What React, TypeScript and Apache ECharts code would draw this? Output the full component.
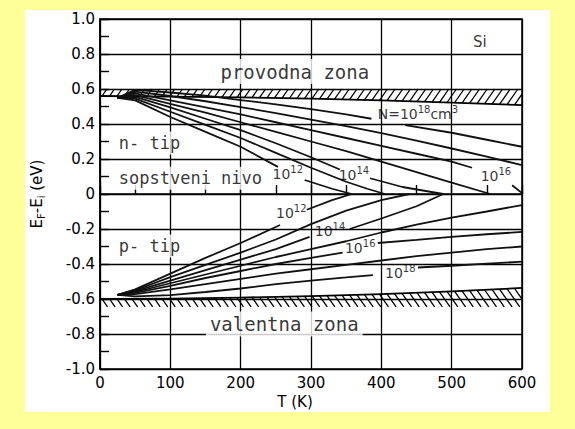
import { useEffect, useRef } from "react";
import * as echarts from "echarts";

type Pt = [number, number | string];
const GAP = "-";

// n-tip krive (E_F - E_i u eV) za razne koncentracije primesa
const nType12: Pt[] = [[25, 0.55], [50, 0.535], [100, 0.44], [150, 0.355], [200, 0.27], [253, 0.155], [270, GAP], [291, 0.08], [330, 0.03], [358, 0]];
const nType13: Pt[] = [[25, 0.55], [50, 0.545], [100, 0.47], [150, 0.395], [200, 0.32], [250, 0.235], [300, 0.15], [350, 0.07], [380, 0.03], [405, 0]];
const nType14: Pt[] = [[25, 0.55], [50, 0.555], [100, 0.495], [150, 0.43], [200, 0.365], [250, 0.29], [300, 0.21], [341, 0.14], [360, GAP], [384, 0.09], [430, 0.04], [488, 0]];
const nType15: Pt[] = [[25, 0.55], [50, 0.565], [100, 0.515], [150, 0.465], [200, 0.41], [250, 0.355], [300, 0.3], [350, 0.245], [400, 0.185], [450, 0.125], [500, 0.065], [555, 0]];
const nType16: Pt[] = [[25, 0.55], [50, 0.575], [100, 0.535], [150, 0.495], [200, 0.455], [250, 0.41], [300, 0.365], [350, 0.32], [400, 0.275], [450, 0.23], [500, 0.185], [529, 0.15], [560, GAP], [586, 0.05], [600, 0.005]];
const nType17: Pt[] = [[25, 0.55], [50, 0.585], [100, 0.56], [150, 0.53], [200, 0.497], [250, 0.462], [300, 0.425], [350, 0.388], [400, 0.348], [450, 0.305], [500, 0.26], [550, 0.213], [600, 0.165]];
const nType18: Pt[] = [[25, 0.55], [50, 0.595], [100, 0.58], [150, 0.562], [200, 0.537], [250, 0.512], [300, 0.485], [350, 0.455], [386, 0.43], [410, GAP], [434, 0.394], [500, 0.35], [550, 0.31], [600, 0.27]];

// p-tip krive
const pType12: Pt[] = [[25, -0.577], [50, -0.545], [100, -0.455], [150, -0.365], [200, -0.28], [256, -0.177], [275, GAP], [294, -0.09], [330, -0.035], [358, 0]];
const pType13: Pt[] = [[25, -0.577], [50, -0.55], [100, -0.475], [150, -0.405], [200, -0.335], [250, -0.26], [300, -0.172], [350, -0.095], [400, -0.035], [440, 0]];
const pType14: Pt[] = [[25, -0.577], [50, -0.555], [100, -0.495], [150, -0.435], [200, -0.375], [250, -0.315], [298, -0.245], [325, GAP], [355, -0.2], [400, -0.14], [450, -0.07], [488, 0]];
const pType15: Pt[] = [[25, -0.577], [50, -0.56], [100, -0.51], [150, -0.46], [200, -0.41], [250, -0.36], [300, -0.315], [350, -0.27], [400, -0.22], [450, -0.175], [500, -0.135], [550, -0.1], [600, -0.063]];
const pType16: Pt[] = [[25, -0.577], [50, -0.565], [100, -0.525], [150, -0.48], [200, -0.44], [250, -0.4], [300, -0.365], [345, -0.335], [370, GAP], [395, -0.28], [450, -0.262], [500, -0.245], [550, -0.23], [600, -0.217]];
const pType17: Pt[] = [[25, -0.577], [50, -0.572], [100, -0.545], [150, -0.515], [200, -0.485], [250, -0.455], [300, -0.43], [350, -0.405], [400, -0.38], [450, -0.355], [500, -0.335], [550, -0.315], [600, -0.3]];
const pType18: Pt[] = [[25, -0.577], [50, -0.585], [100, -0.578], [150, -0.56], [200, -0.54], [250, -0.515], [300, -0.495], [350, -0.477], [388, -0.463], [420, GAP], [452, -0.42], [500, -0.41], [550, -0.398], [600, -0.387]];

const curves = [nType12, nType13, nType14, nType15, nType16, nType17, nType18, pType12, pType13, pType14, pType15, pType16, pType17, pType18];

// ivice zona
const bandT = [0, 100, 200, 300, 400, 500, 600];
const condTop = [0.6, 0.6, 0.6, 0.6, 0.6, 0.6, 0.6];
const condBottom = [0.56, 0.557, 0.552, 0.545, 0.535, 0.522, 0.508];
const valTop = [-0.6, -0.598, -0.592, -0.583, -0.572, -0.556, -0.537];
const valBottom = [-0.645, -0.645, -0.645, -0.645, -0.645, -0.645, -0.645];

// oznake krivih: osnova, eksponent, nastavak, eksponent nastavka
const curveLabels = [
  { t: 267, e: 0.115, base: "10", sup: "12", tail: "", tailSup: "" },
  { t: 361, e: 0.109, base: "10", sup: "14", tail: "", tailSup: "" },
  { t: 563, e: 0.103, base: "10", sup: "16", tail: "", tailSup: "" },
  { t: 452, e: 0.457, base: "N=10", sup: "18", tail: "cm", tailSup: "3" },
  { t: 272, e: -0.111, base: "10", sup: "12", tail: "", tailSup: "" },
  { t: 327, e: -0.214, base: "10", sup: "14", tail: "", tailSup: "" },
  { t: 370, e: -0.311, base: "10", sup: "16", tail: "", tailSup: "" },
  { t: 427, e: -0.449, base: "10", sup: "18", tail: "", tailSup: "" }
];

const regionLabels = [
  { t: 277, e: 0.7, text: "provodna zona", left: false, big: true },
  { t: 21, e: 0.291, text: "n- tip", left: true, big: false },
  { t: 21, e: 0.09, text: "sopstveni nivo", left: true, big: false },
  { t: 21, e: -0.297, text: "p- tip", left: true, big: false },
  { t: 262, e: -0.743, text: "valentna zona", left: false, big: true }
];

const siLabel = { t: 540, e: 0.869, text: "Si" };

function interpY(pts: number[][], x: number) {
  for (let i = 0; i < pts.length - 1; i++) {
    const a = pts[i];
    const b = pts[i + 1];
    if (x >= a[0] && x <= b[0]) {
      const f = (x - a[0]) / (b[0] - a[0] || 1);
      return a[1] + f * (b[1] - a[1]);
    }
  }
  return pts[pts.length - 1][1];
}

function hatchRenderer(top: number[], bottom: number[], forward: boolean, edgeTop: boolean) {
  return (params: any, api: any) => {
    if (params.dataIndex !== 0) return null;
    const topPts = bandT.map((t, i) => api.coord([t, top[i]]));
    const botPts = bandT.map((t, i) => api.coord([t, bottom[i]]));
    const x0 = topPts[0][0];
    const x1 = topPts[topPts.length - 1][0];
    const children: any[] = [];
    const edge = edgeTop ? topPts : botPts;
    children.push({ type: "polyline", shape: { points: edge }, style: { stroke: "#000", lineWidth: 1.8, fill: null } });
    for (let x = x0 + 2; x < x1 - 2; x += 7.5) {
      const yt = interpY(topPts, x);
      const yb = interpY(botPts, x);
      const h = yb - yt;
      let dx = h * 0.7;
      let len = 1;
      if (x + dx > x1) {
        len = (x1 - x) / dx;
        dx = x1 - x;
      }
      if (forward) {
        children.push({ type: "line", shape: { x1: x, y1: yb, x2: x + dx, y2: yb - h * len }, style: { stroke: "#000", lineWidth: 1.3 } });
      } else {
        children.push({ type: "line", shape: { x1: x, y1: yt, x2: x + dx, y2: yt + h * len }, style: { stroke: "#000", lineWidth: 1.3 } });
      }
    }
    return { type: "group", children };
  };
}

export default function App() {
  const chartRef = useRef<HTMLDivElement | null>(null);

  useEffect(() => {
    const el = chartRef.current;
    if (!el) return;
    const chart = echarts.init(el, undefined, { renderer: "svg" });
    const font = "DejaVu Sans";
    const mono = "DejaVu Sans Mono";

    const lineSeries = curves.map((data) => ({
      type: "line",
      data,
      symbol: "none",
      connectNulls: false,
      silent: true,
      z: 3,
      lineStyle: { color: "#111", width: 1.8 }
    }));

    const supRich = {
      b: { fontSize: 14, fontFamily: font, color: "#000" },
      s: { fontSize: 10, fontFamily: font, color: "#000", padding: [0, 0, 9, 0] }
    };

    const textItems = [
      ...curveLabels.map((l) => ({
        value: [l.t, l.e],
        name: `{b|${l.base}}{s|${l.sup}}` + (l.tail ? `{b|${l.tail}}{s|${l.tailSup}}` : ""),
        label: { rich: supRich }
      })),
      ...regionLabels.map((l) => ({
        value: [l.t, l.e],
        name: l.text,
        label: {
          fontSize: l.big ? 19 : 17,
          fontFamily: mono,
          align: l.left ? "left" : "center",
          backgroundColor: "#fff",
          padding: [3, 4, 3, 4]
        }
      })),
      { value: [siLabel.t, siLabel.e], name: siLabel.text, label: { fontSize: 15, fontFamily: font } }
    ];

    chart.setOption({
      animation: false,
      backgroundColor: "transparent",
      grid: { left: 100, right: 53, top: 19, bottom: 60, show: true, borderColor: "#000", borderWidth: 1.5, backgroundColor: "transparent" },
      xAxis: {
        type: "value",
        min: 0,
        max: 600,
        interval: 100,
        axisLine: { show: true, lineStyle: { color: "#000", width: 1.5 } },
        axisTick: { show: true, inside: true, length: 9, lineStyle: { color: "#000", width: 1.4 } },
        minorTick: { show: true, splitNumber: 2, length: 9, lineStyle: { color: "#000", width: 1.4 } },
        splitLine: { show: true, lineStyle: { color: "#000", width: 1.3 } },
        axisLabel: { color: "#000", fontSize: 15, fontFamily: font, margin: 6 },
        name: "T (K)",
        nameLocation: "middle",
        nameGap: 25,
        nameTextStyle: { color: "#000", fontSize: 15, fontFamily: font, padding: [0, 32, 0, 0] }
      },
      yAxis: {
        type: "value",
        min: -1,
        max: 1,
        interval: 0.2,
        axisLine: { show: true, lineStyle: { color: "#000", width: 1.5 } },
        axisTick: { show: true, inside: true, length: 9, lineStyle: { color: "#000", width: 1.4 } },
        minorTick: { show: true, splitNumber: 2, length: 9, lineStyle: { color: "#000", width: 1.4 } },
        splitLine: { show: true, lineStyle: { color: "#000", width: 1.3 } },
        axisLabel: {
          color: "#000",
          fontSize: 15,
          fontFamily: font,
          margin: 5,
          formatter: (v: number) => (Math.abs(v) < 1e-9 ? "0" : v.toFixed(1))
        },
        name: "{e|E}{s|F}{e|-E}{s|i}{e| (eV)}",
        nameLocation: "middle",
        nameGap: 54,
        nameTextStyle: {
          color: "#000",
          fontSize: 15,
          fontFamily: font,
          rich: {
            e: { fontSize: 15, fontFamily: font, color: "#000" },
            s: { fontSize: 10, fontFamily: font, color: "#000", padding: [9, 0, 0, 0] }
          }
        }
      },
      series: [
        {
          type: "custom",
          coordinateSystem: "cartesian2d",
          data: [[0, 0]],
          silent: true,
          z: 2,
          renderItem: hatchRenderer(condTop, condBottom, true, false)
        },
        {
          type: "custom",
          coordinateSystem: "cartesian2d",
          data: [[0, 0]],
          silent: true,
          z: 2,
          renderItem: hatchRenderer(valTop, valBottom, false, true)
        },
        ...lineSeries,
        {
          type: "scatter",
          data: textItems,
          symbolSize: 0.1,
          silent: true,
          z: 5,
          itemStyle: { color: "transparent" },
          label: { show: true, position: "inside", formatter: "{b}", color: "#000" }
        }
      ]
    });

    return () => {
      chart.dispose();
    };
  }, []);

  return (
    <div style={{ position: "fixed", left: 0, top: 0, width: 575, height: 429, background: "#ffff99", overflow: "hidden" }}>
      <div style={{ position: "absolute", left: 25, top: 10, width: 525, height: 402, background: "#fff" }} />
      <div ref={chartRef} style={{ position: "absolute", left: 0, top: 0, width: 575, height: 429 }} />
    </div>
  );
}
